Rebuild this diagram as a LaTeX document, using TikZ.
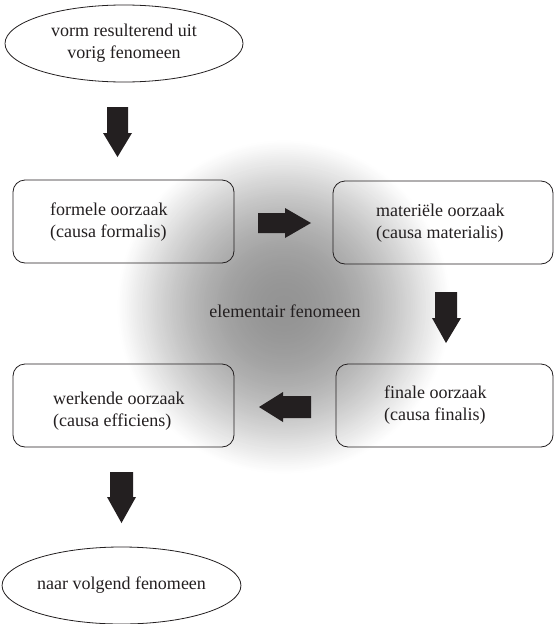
\documentclass[tikz,border=0pt]{standalone}
\usepackage{fontspec}
\setmainfont{Liberation Serif}
\usetikzlibrary{shapes.geometric}
\definecolor{ink}{HTML}{231F20}
\tikzset{
  oval/.style={ellipse, draw=ink, line width=0.8pt, inner sep=0pt, minimum width=238pt, minimum height=77pt, align=center, font=\fontsize{18}{22}\selectfont, text=ink},
  causebox/.style={draw=ink, line width=0.8pt, rounded corners=12pt, minimum height=83pt, inner sep=0pt},
  boxtext/.style={anchor=west, align=left, inner sep=0pt, font=\fontsize{18}{22}\selectfont, text=ink},
  blockarrow/.style={fill=ink, draw=none}
}
\begin{document}
\begin{tikzpicture}[x=1pt,y=-1pt]
\useasboundingbox (0,0) rectangle (554,624);
\fill[white] (0,0) rectangle (554,624);
% radial glow
\foreach \i in {0,...,89}{
  \pgfmathsetmacro\t{1-\i/90}
  \pgfmathsetmacro\q{max(1-\t*\t,0.0001)}
  \pgfmathsetmacro\p{42*(\q^1.15)}
  \pgfmathsetmacro\r{168*\t}
  \fill[black!\p] (284,307) circle (\r pt);
}

\node[oval] (top) at (124,43.5) {vorm resulterend uit\\vorig fenomeen};
\node[oval] (bottom) at (121.5,585.5) {naar volgend fenomeen};

\node[causebox, minimum width=221pt] (formal) at (123.5,221.5) {};
\node[causebox, minimum width=220pt] (material) at (443,222.5) {};
\node[causebox, minimum width=217pt] (final) at (444.5,405.5) {};
\node[causebox, minimum width=221pt] (efficient) at (123.5,405.5) {};

\node[boxtext] (formalt) at (50,222) {formele oorzaak\\(causa formalis)};
\node[boxtext] (materialt) at (376,223) {materiële oorzaak\\(causa materialis)};
\node[boxtext] (finalt) at (384,405) {finale oorzaak\\(causa finalis)};
\node[boxtext] (efficientt) at (53,411) {werkende oorzaak\\(causa efficiens)};

\node[inner sep=0pt, font=\fontsize{18}{22}\selectfont, text=ink] (elem) at (285,311) {elementair fenomeen};

% block arrows
\fill[blockarrow] (107,107) -- (128,107) -- (128,133) -- (132,133) -- (117.5,157) -- (103,133) -- (107,133) -- cycle;
\fill[blockarrow] (258,213) -- (285,213) -- (285,208) -- (311,223) -- (285,238) -- (285,233) -- (258,233) -- cycle;
\fill[blockarrow] (435,292) -- (457,292) -- (457,318) -- (461,318) -- (446,343) -- (432,318) -- (435,318) -- cycle;
\fill[blockarrow] (311,396) -- (283,396) -- (283,392) -- (259,407) -- (283,422) -- (283,418) -- (311,418) -- cycle;
\fill[blockarrow] (110,472) -- (133,472) -- (133,497) -- (136,497) -- (121.5,523) -- (107,497) -- (110,497) -- cycle;
\end{tikzpicture}
\end{document}
